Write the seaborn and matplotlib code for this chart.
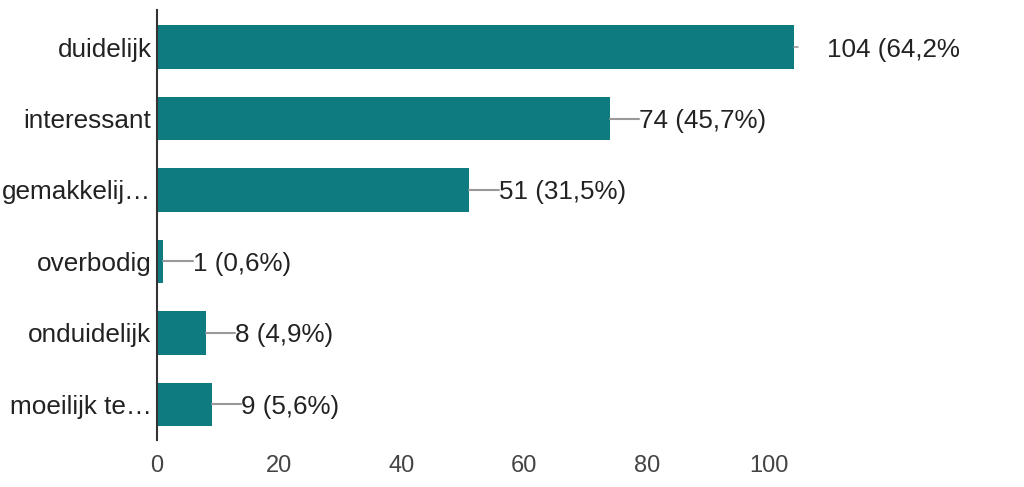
import matplotlib
matplotlib.use("Agg")
import matplotlib.pyplot as plt
import seaborn as sns
import pandas as pd

categories = ["duidelijk", "interessant", "gemakkelij…", "overbodig", "onduidelijk", "moeilijk te…"]
counts = [104, 74, 51, 1, 8, 9]
labels = ["104 (64,2%", "74 (45,7%)", "51 (31,5%)", "1 (0,6%)", "8 (4,9%)", "9 (5,6%)"]
x_ticks = [0, 20, 40, 60, 80, 100]

sns.set_theme(style="white")
plt.rcParams["font.family"] = ["Liberation Sans", "DejaVu Sans"]

df = pd.DataFrame({"cat": categories, "n": counts})

fig = plt.figure(figsize=(10.24, 4.87), dpi=100)
ax = fig.add_axes([157/1024, 1 - 440/487, (1014-157)/1024, 430/487])
sns.barplot(data=df, x="n", y="cat", orient="h", color="#0e7b80", saturation=1,
            width=0.61, ax=ax, linewidth=0)

ax.set_xlim(0, 140)
ax.set_ylim(5.5, -0.52)
ax.set_xlabel("")
ax.set_ylabel("")
ax.set_xticks(x_ticks)
ax.tick_params(axis="x", length=0, pad=11, labelsize=17, labelcolor="#444444")
ax.tick_params(axis="y", length=0, pad=4, labelsize=18.8, labelcolor="#222222")
for s in ["top", "right", "bottom"]:
    ax.spines[s].set_visible(False)
ax.spines["left"].set_color("#333333")
ax.spines["left"].set_linewidth(1.5)

for i, (v, lab) in enumerate(zip(counts, labels)):
    if i == 0:
        ax.plot([v, v + 0.7], [i, i], color="#999999", lw=1.2, clip_on=False)
        tx = v + 5.4
    else:
        ax.plot([v, v + 4.8], [i, i], color="#999999", lw=1.5, clip_on=False)
        tx = v + 4.8
    ax.text(tx, i, lab, ha="left", va="center_baseline", fontsize=18.7, color="#222222")

fig.savefig("out.png", dpi=100)
